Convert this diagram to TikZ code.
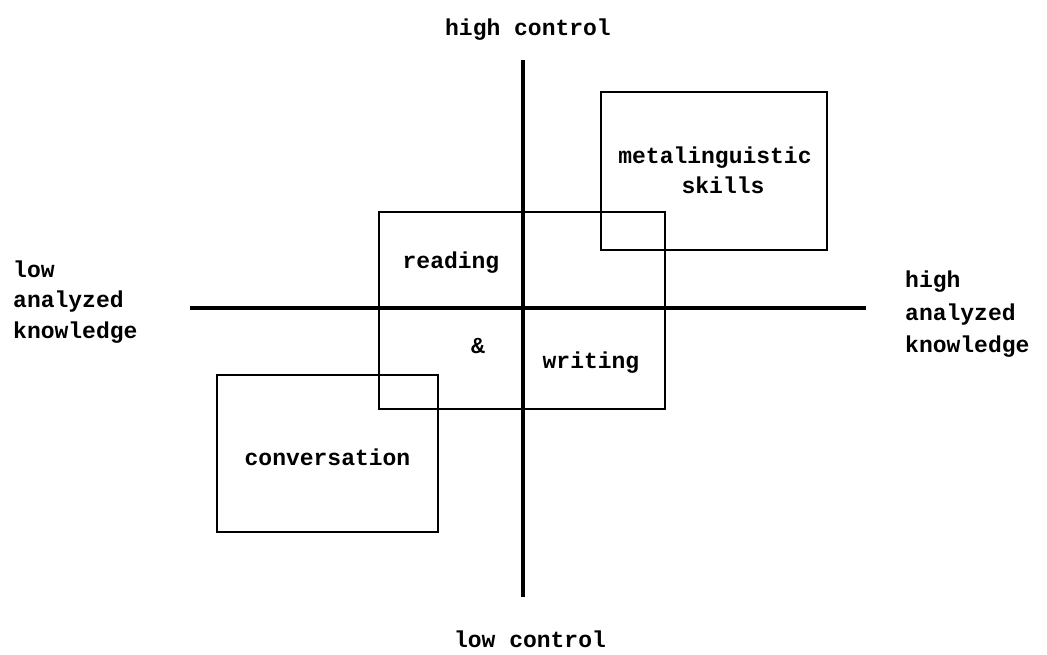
\documentclass[tikz,border=0pt]{standalone}
\usepackage{fontspec}
\setmonofont{Liberation Mono}
\begin{document}
\begin{tikzpicture}[x=1pt,y=-1pt,
  axis/.style={line width=4pt},
  region/.style={draw, line width=2.3pt, inner sep=0pt, fill=none},
  lbl/.style={font=\ttfamily\bfseries\fontsize{23}{31}\selectfont, inner sep=0pt, anchor=base},
  sidelbl/.style={font=\ttfamily\bfseries\fontsize{23}{31}\selectfont, inner sep=0pt, anchor=base west}]
  \useasboundingbox (0,0) rectangle (1047,654);

  % axes
  \coordinate (top) at (523,60);
  \coordinate (bottom) at (523,597);
  \coordinate (left) at (190,308);
  \coordinate (right) at (866,308);
  \draw[axis] (top) -- (bottom);
  \draw[axis] (left) -- (right);

  % regions
  \node[region, minimum width=226pt, minimum height=158pt] (meta) at (714,171) {};
  \node[region, minimum width=286pt, minimum height=197pt] (rw) at (522,310.5) {};
  \node[region, minimum width=221pt, minimum height=157pt] (conv) at (327.5,453.5) {};

  % region labels
  \node[lbl] (metaA) at (715,163) {metalinguistic};
  \node[lbl] (metaB) at (723,193) {skills};
  \node[lbl] (read) at (451,268) {reading};
  \node[lbl] (amp) at (478,353) {\&};
  \node[lbl] (writ) at (591,368) {writing};
  \node[lbl] (convt) at (327.5,465) {conversation};

  % axis labels
  \node[lbl] (hc) at (528,35) {high control};
  \node[lbl] (lc) at (530,647) {low control};
  \node[sidelbl] (lak1) at (13,277) {low};
  \node[sidelbl] (lak2) at (13,307) {analyzed};
  \node[sidelbl] (lak3) at (13,338) {knowledge};
  \node[sidelbl] (hak1) at (905,287) {high};
  \node[sidelbl] (hak2) at (905,320) {analyzed};
  \node[sidelbl] (hak3) at (905,352) {knowledge};
\end{tikzpicture}
\end{document}
